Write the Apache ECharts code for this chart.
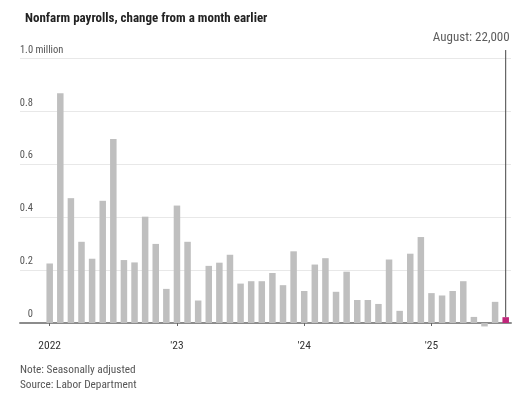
<!DOCTYPE html>
<html>
<head>
<meta charset="utf-8">
<script src="https://cdn.jsdelivr.net/npm/echarts@6/dist/echarts.min.js"></script>
<style>
html,body{margin:0;padding:0;background:#fff;}
#chart{width:528px;height:394px;}
</style>
</head>
<body>
<div id="chart"></div>
<script>
// ---- data (thousands of jobs, seasonally adjusted) ----
const monthNames = ['January','February','March','April','May','June','July','August','September','October','November','December'];
const years = [2022, 2023, 2024, 2025];
const payrolls2022 = [225, 869, 472, 307, 243, 462, 696, 238, 229, 402, 299, 129];
const payrolls2023 = [444, 307, 85, 216, 228, 258, 149, 158, 158, 189, 143, 271];
const payrolls2024 = [121, 221, 245, 118, 194, 87, 87, 72, 240, 46, 262, 325];
const payrolls2025 = [113, 104, 121, 158, 23, -13, 80, 22];
const xTickLabels = ['2022', "'23", "'24", "'25"];
const yTickValues = [0, 0.2, 0.4, 0.6, 0.8, 1.0];
const yTickLabels = ['0', '0.2', '0.4', '0.6', '0.8', '1.0 million'];
const titleText = 'Nonfarm payrolls, change from a month earlier';
const noteText = 'Note: Seasonally adjusted';
const sourceText = 'Source: Labor Department';

// ---- build ----
const yearly = [payrolls2022, payrolls2023, payrolls2024, payrolls2025];
const allValues = [].concat.apply([], yearly);
const categories = [];
years.forEach(function (y, yi) {
  for (let m = 0; m < yearly[yi].length; m++) categories.push(monthNames[m] + ' ' + y);
});
const lastIdx = allValues.length - 1;
const lastVal = allValues[lastIdx] / 1000;
const lastMonth = categories[lastIdx].split(' ')[0];
const annotation = lastMonth + ': ' + (allValues[lastIdx] * 1000).toLocaleString('en-US');
const xTickIdx = years.map(function (y) { return categories.indexOf('January ' + y); });

const FONT = "'Roboto Condensed', 'DejaVu Sans Condensed', sans-serif";
const GREY = '#bfbfbf';
const HIGHLIGHT = '#c0267a';

const barData = allValues.map(function (v, i) {
  const item = { value: [i, v / 1000] };
  if (i === lastIdx) item.itemStyle = { color: HIGHLIGHT };
  return item;
});

const chart = echarts.init(document.getElementById('chart'), null, { renderer: 'canvas' });
chart.setOption({
  animation: false,
  backgroundColor: '#ffffff',
  textStyle: { fontFamily: FONT },
  title: {
    text: titleText,
    left: 20, top: 7,
    textStyle: { fontFamily: FONT, fontSize: 13, fontWeight: 'bold', color: '#222' }
  },
  graphic: [
    { type: 'text', left: 20, top: 365, style: { text: noteText, font: '11.3px ' + FONT, fill: '#555' } },
    { type: 'text', left: 20, top: 380, style: { text: sourceText, font: '11.3px ' + FONT, fill: '#555' } }
  ],
  grid: { left: 20, right: 17, top: 58.5, bottom: 71, containLabel: false },
  xAxis: [
    {
      type: 'value', min: -2.8, max: 43.5,
      axisLine: { show: true, onZero: false, lineStyle: { color: '#8c8c8c', width: 2 } },
      axisTick: { show: false }, axisLabel: { show: false }, splitLine: { show: false }
    },
    {
      type: 'value', min: -2.8, max: 43.5, position: 'bottom', offset: 13,
      axisLine: { show: false },
      axisTick: { show: true, length: 3, customValues: xTickIdx, lineStyle: { color: '#666' } },
      axisLabel: {
        show: true, customValues: xTickIdx, margin: 4,
        fontFamily: FONT, fontSize: 11.5, color: '#333',
        formatter: function (v) { return xTickLabels[xTickIdx.indexOf(v)]; }
      },
      splitLine: { show: false }
    }
  ],
  yAxis: {
    type: 'value', min: 0, max: 1, interval: 0.2,
    axisLine: { show: false }, axisTick: { show: false },
    splitLine: { show: true, lineStyle: { color: '#e8e8e8', width: 1 } },
    axisLabel: {
      inside: true, margin: 0, verticalAlign: 'bottom', align: 'left',
      padding: [0, 0, 3, 0],
      fontFamily: FONT, fontSize: 10.5, color: '#555',
      formatter: function (v) {
        let k = -1;
        yTickValues.forEach(function (t, i) { if (Math.abs(t - v) < 1e-6) k = i; });
        if (k < 0) return '';
        const parts = yTickLabels[k].split(' ');
        return '{n|' + parts[0] + '}' + (parts[1] ? '{m| ' + parts[1] + '}' : '');
      },
      rich: {
        n: { width: 13, align: 'right', fontFamily: FONT, fontSize: 10.5, color: '#555' },
        m: { fontFamily: FONT, fontSize: 10.5, color: '#555' }
      }
    }
  },
  series: [
    {
      type: 'bar', xAxisIndex: 0, data: barData, barWidth: 6.5, clip: false,
      itemStyle: { color: GREY }, z: 3
    },
    {
      type: 'line', xAxisIndex: 0, data: [[lastIdx, lastVal], [lastIdx, 1.032]],
      symbol: 'none', clip: false, silent: true, z: 4,
      lineStyle: { color: '#444', width: 1 }
    },
    {
      type: 'scatter', xAxisIndex: 0, data: [[lastIdx, 1.032]], symbolSize: 0, clip: false, silent: true,
      label: {
        show: true, position: 'top', align: 'right', distance: 6, offset: [4, 0],
        formatter: annotation, fontFamily: FONT, fontSize: 13, color: '#333'
      }
    }
  ]
});
</script>
</body>
</html>
